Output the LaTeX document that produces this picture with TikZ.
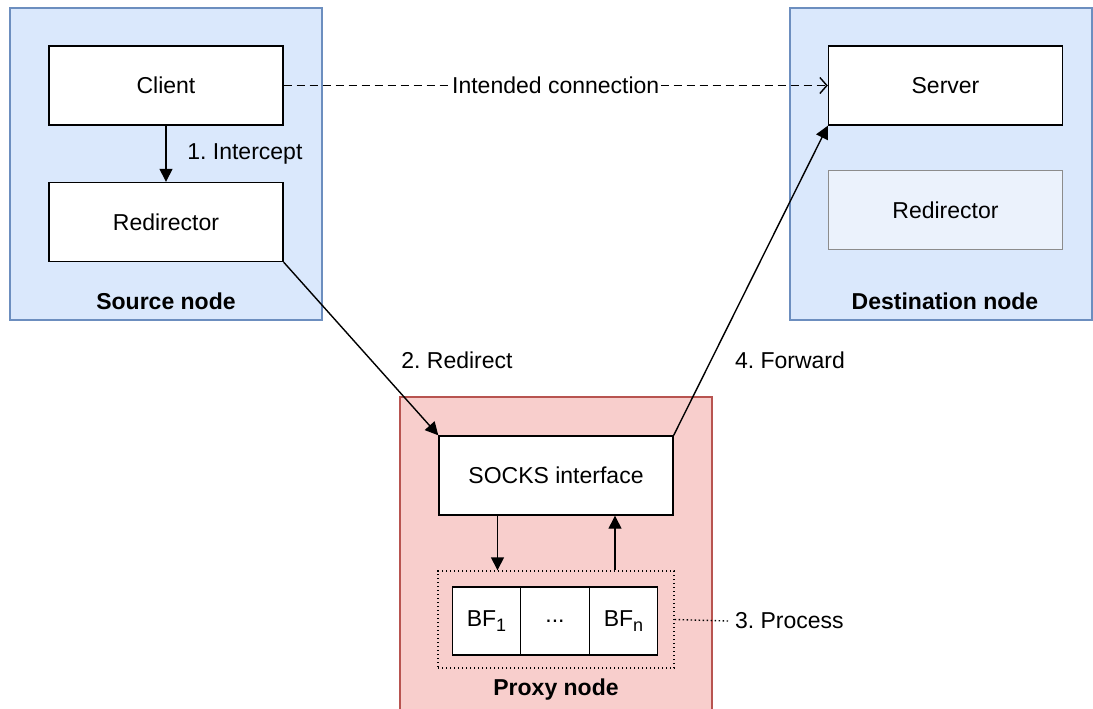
\documentclass[tikz,border=0pt]{standalone}
\usepackage{fontspec}
\setmainfont{Liberation Sans}
\usetikzlibrary{arrows.meta, positioning}
\definecolor{hostfill}{HTML}{DAE8FC}
\definecolor{hostdraw}{HTML}{6C8EBF}
\definecolor{proxyfill}{HTML}{F8CECC}
\definecolor{proxydraw}{HTML}{B85450}
\definecolor{idlefill}{HTML}{EBF2FC}
\definecolor{idledraw}{HTML}{8C8C8C}
\newcommand{\bfsub}[1]{\raisebox{-0.45ex}{\fontsize{9}{9}\selectfont #1}}
\frenchspacing

\begin{document}
\begin{tikzpicture}[
    x=0.5pt, y=-0.5pt,
    font=\fontsize{11.5}{13}\selectfont,
    hostbox/.style={draw=hostdraw, fill=hostfill, line width=0.7pt, minimum width=156pt, minimum height=156pt},
    proxybox/.style={draw=proxydraw, fill=proxyfill, line width=0.7pt, minimum width=156pt, minimum height=170pt},
    compbox/.style={draw, fill=white, line width=0.7pt, minimum width=117pt, minimum height=39.5pt},
    cellbox/.style={draw, fill=white, line width=0.7pt, minimum width=34.25pt, minimum height=34pt, inner sep=0pt},
    flow/.style={-{Triangle[length=6.5pt, width=6.5pt]}, line width=0.7pt},
    dotline/.style={line width=0.7pt, dash pattern=on 0.7pt off 1.3pt}
]
    \clip (0,0) rectangle (1093,708);
    \useasboundingbox (0,0) rectangle (1093,708);

    % Host and proxy areas
    \node[hostbox] (src) at (166,164) {};
    \node[font=\fontsize{11.5}{13}\selectfont\bfseries] (srclabel) at (166,301) {Source node};

    \node[hostbox, minimum width=151pt] (dst) at (941,164) {};
    \node[font=\fontsize{11.5}{13}\selectfont\bfseries] (dstlabel) at (945,301) {Destination node};

    \node[proxybox] (proxy) at (556,567) {};
    \node[font=\fontsize{11.5}{13}\selectfont\bfseries] (proxylabel) at (556,690) {Proxy node};

    % Components
    \node[compbox] (client) at (166,85.5) {Client};
    \node[compbox] (srcredir) at (166,222) {Redirector};

    \node[compbox] (server) at (945.5,85.5) {Server};
    \node[compbox, draw=idledraw, fill=idlefill] (dstredir) at (945.5,210) {Redirector};

    \node[compbox] (socks) at (556,475.5) {SOCKS interface};

    % Filter chain
    \node[draw, dotline, minimum width=118pt, minimum height=48.5pt] (bfgroup) at (556,619.5) {};
    \node[cellbox] (bf1) at (486.5,621) {BF\bfsub{1}};
    \node[cellbox] (bfdots) at (555,621) {...};
    \node[cellbox] (bfn) at (623.5,621) {BF\bfsub{n}};

    % Connections
    \draw[dash pattern=on 4pt off 2.5pt, line width=0.7pt, -{Straight Barb[length=3.5pt, width=8pt]}]
        (client.east) -- (server.west) node[midway, fill=white, inner sep=1pt] {Intended connection};

    \draw[flow] (client.south) -- (srcredir.north) node[midway, right=7pt] {1. Intercept};

    \draw[flow] (srcredir.south east) -- (socks.north west);
    \node (redirlabel) at (457,360) {2. Redirect};

    \draw[flow] ([xshift=-29.25pt]socks.south) -- ([xshift=-29.25pt]bfgroup.north);
    \draw[flow] ([xshift=29.5pt]bfgroup.north) -- ([xshift=29.5pt]socks.south);

    \node[anchor=west] (proclabel) at (728,621) {3. Process};
    \draw[dotline] (bfgroup.east) -- (proclabel.west);

    \draw[flow] (socks.north east) -- (server.south west);
    \node (fwdlabel) at (790,360) {4. Forward};
\end{tikzpicture}
\end{document}
